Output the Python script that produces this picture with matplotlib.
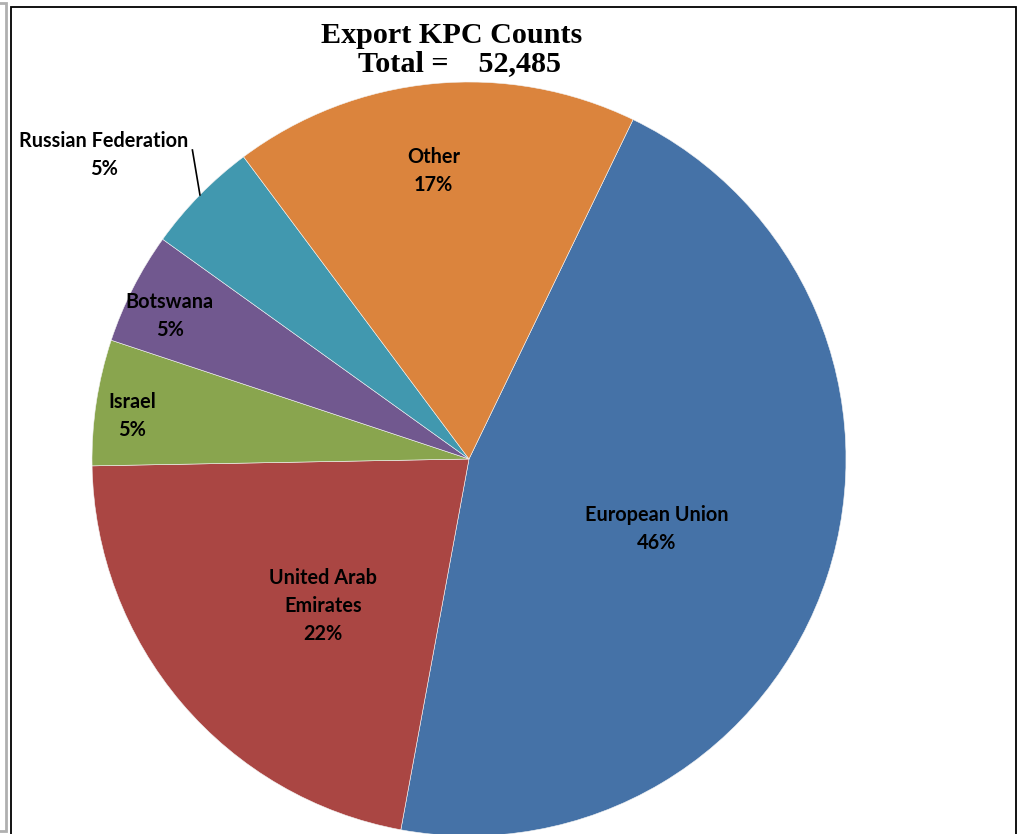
import numpy as np
import matplotlib.pyplot as plt
from matplotlib.patches import Rectangle

# datos del gráfico
countries = ['European Union', 'United Arab Emirates', 'Israel',
             'Botswana', 'Russian Federation', 'Other']
label_names = ['European Union', 'United Arab\nEmirates', 'Israel',
               'Botswana', 'Russian Federation', 'Other']
kpc_counts = [24000, 11450, 2830, 2520, 2570, 9115]
total_kpc = 52485

colors = ['#4572A7', '#AA4643', '#89A54E', '#71588F', '#4198AF', '#DB843D']

# posición de etiquetas: (fracción del radio, desvío angular en grados)
label_pos = [(0.53, -2.3), (0.55, 4.9), (0.90, 1.3),
             (0.88, 1.5), (1.26, 4.7), (0.77, 1.6)]

W, H = 1022, 834
fig = plt.figure(figsize=(W / 100, H / 100), dpi=100)
ax = fig.add_axes([0, 0, 1, 1])

center = (469, H - 459)
radius = 377

wedges, _ = ax.pie(kpc_counts, colors=colors, startangle=64.2,
                   counterclock=False, center=center, radius=radius,
                   wedgeprops=dict(edgecolor='#f4f4f4', linewidth=0.4))

ax.set_xlim(0, W)
ax.set_ylim(0, H)
ax.set_aspect('auto')
ax.axis('off')

lbl_font = dict(family=['Lato', 'DejaVu Sans'], fontsize=14.3,
                fontweight='bold', color='black')

for w, name, n, (rf, dang) in zip(wedges, label_names, kpc_counts, label_pos):
    mid = (w.theta1 + w.theta2) / 2
    ang = np.deg2rad(mid + dang)
    x = center[0] + rf * radius * np.cos(ang)
    y = center[1] + rf * radius * np.sin(ang)
    pct = round(100 * n / total_kpc)
    ax.text(x, y, f'{name}\n{pct}%', ha='center', va='center',
            linespacing=1.5, **lbl_font)
    if rf > 1:
        # línea guía hasta el borde del sector
        a0 = np.deg2rad(mid)
        a1 = np.deg2rad(mid - 3.7)
        ax.plot([center[0] + radius * np.cos(a0), center[0] + 1.10 * radius * np.cos(a1)],
                [center[1] + radius * np.sin(a0), center[1] + 1.10 * radius * np.sin(a1)],
                color='black', lw=1.2)

# título
title_font = dict(family=['Liberation Serif', 'DejaVu Serif'],
                  fontsize=21.7, fontweight='bold', ha='center')
ax.text(452, H - 43, 'Export KPC Counts', va='baseline', **title_font)
ax.text(460, H - 71, f'Total =    {total_kpc:,}', va='baseline', **title_font)

# marcos
ax.add_patch(Rectangle((-10, 3), 15.5, H - 6, fill=False,
                       edgecolor='#b0b0b0', lw=2.0, clip_on=False))
ax.add_patch(Rectangle((10.5, -10), 1005, H - 6 + 10 - 0.5, fill=False,
                       edgecolor='black', lw=1.3))

fig.savefig('out.png', dpi=100)
